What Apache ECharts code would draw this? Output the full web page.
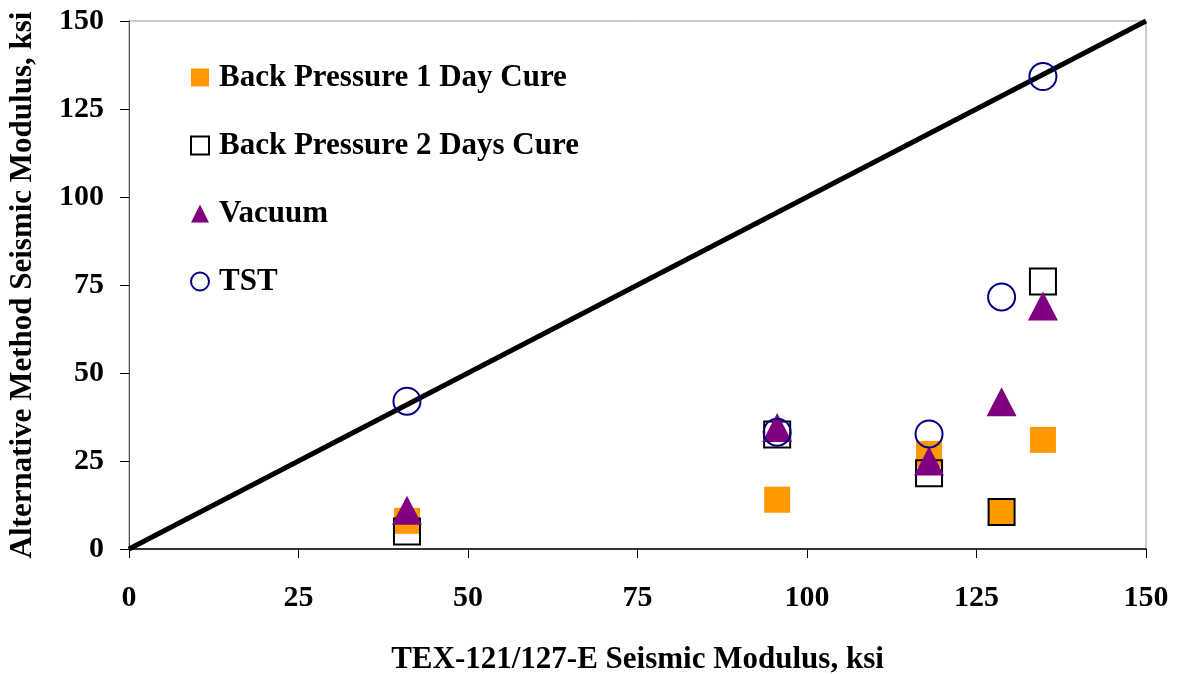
<!DOCTYPE html>
<html><head><meta charset="utf-8">
<script src="https://cdn.jsdelivr.net/npm/echarts@6/dist/echarts.min.js"></script>
<style>html,body{margin:0;padding:0;background:#fff}#c{width:1177px;height:674px}</style>
</head><body><div id="c"></div>
<script>
var seriesNames = ['Back Pressure 1 Day Cure','Back Pressure 2 Days Cure','Vacuum','TST'];
var tex = [41, 95.6, 118, 128.7, 134.8];
var bp1 = [8, 14, 27, 10.5, 31];
var bp2 = [5, 32.5, 21.5, 10.5, 76];
var vacuum = [11, 34.5, 25, 41.8, 69];
var tst = [42, 33.2, 32.7, 71.6, 134.2];
var equalityLine = [[0,0],[150,150]];
var axisTicks = [0,25,50,75,100,125,150];

function pairs(ys){ return tex.map(function(x,i){ return [x, ys[i]]; }); }
var font = 'Liberation Serif';
var chart = echarts.init(document.getElementById('c'));
chart.setOption({
  animation:false,
  backgroundColor:'#fff',
  grid:{left:129,right:31,top:21,bottom:125,show:true,borderColor:'#999',borderWidth:1,
    containLabel:false,outerBoundsMode:'none'},
  xAxis:{type:'value',min:axisTicks[0],max:axisTicks[axisTicks.length-1],interval:25,
    name:'TEX-121/127-E Seismic Modulus, ksi',nameLocation:'middle',nameGap:95,
    nameTextStyle:{fontFamily:font,fontWeight:'bold',fontSize:31,color:'#000'},
    axisLine:{lineStyle:{color:'#000',width:1.5}},
    axisTick:{show:true,inside:false,length:9,lineStyle:{color:'#000'}},
    axisLabel:{fontFamily:font,fontWeight:'bold',fontSize:30,color:'#000',margin:34},
    splitLine:{show:false}},
  yAxis:{type:'value',min:axisTicks[0],max:axisTicks[axisTicks.length-1],interval:25,
    name:'Alternative Method Seismic Modulus, ksi',nameLocation:'middle',nameGap:91,
    nameTextStyle:{fontFamily:font,fontWeight:'bold',fontSize:31,color:'#000'},
    axisLine:{lineStyle:{color:'#555',width:1}},
    axisTick:{show:true,inside:false,length:9,lineStyle:{color:'#000'}},
    axisLabel:{fontFamily:font,fontWeight:'bold',fontSize:30,color:'#000',margin:25},
    splitLine:{show:false}},
  legend:{orient:'vertical',left:185,top:57,itemWidth:18,itemHeight:18,itemGap:37,
    textStyle:{fontFamily:font,fontWeight:'bold',fontSize:31,color:'#000',padding:[0,0,0,5]},
    data:[
      {name:seriesNames[0],icon:'rect'},
      {name:seriesNames[1],icon:'rect'},
      {name:seriesNames[2],icon:'triangle'},
      {name:seriesNames[3],icon:'circle'}
    ]},
  series:[
    {type:'line',data:equalityLine,symbol:'none',lineStyle:{color:'#000',width:5},z:1,silent:true},
    {name:seriesNames[0],type:'scatter',data:pairs(bp1),symbol:'rect',symbolSize:26,
      itemStyle:{color:'#FF9900',opacity:1},z:2},
    {name:seriesNames[1],type:'scatter',data:pairs(bp2),symbol:'rect',symbolSize:26,
      itemStyle:{color:'rgba(255,255,255,0)',borderColor:'#000',borderWidth:2,opacity:1},z:3},
    {name:seriesNames[2],type:'scatter',data:pairs(vacuum),symbol:'triangle',symbolSize:[30,29],
      itemStyle:{color:'#800080',opacity:1},z:4},
    {name:seriesNames[3],type:'scatter',data:pairs(tst),symbol:'circle',symbolSize:27,
      itemStyle:{color:'rgba(255,255,255,0)',borderColor:'#000080',borderWidth:2,opacity:1},z:5}
  ]
});
</script></body></html>
